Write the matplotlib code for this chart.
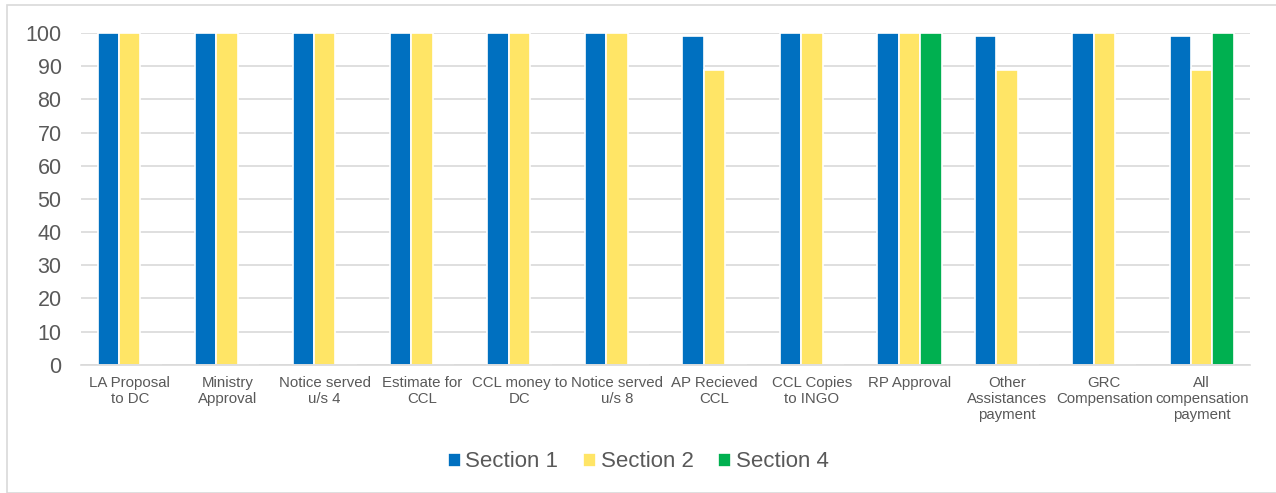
import numpy as np
import matplotlib.pyplot as plt
from matplotlib.patches import Rectangle

plt.rcParams['font.family'] = ['Liberation Sans', 'DejaVu Sans']

categories = ['LA Proposal\nto DC', 'Ministry\nApproval', 'Notice served\nu/s 4', 'Estimate for\nCCL',
              'CCL money to\nDC', 'Notice served\nu/s 8', 'AP Recieved\nCCL', 'CCL Copies\nto INGO',
              'RP Approval', 'Other\nAssistances\npayment', 'GRC\nCompensation', 'All\ncompensation\npayment']
section1 = [100, 100, 100, 100, 100, 100, 99, 100, 100, 99, 100, 99]
section2 = [100, 100, 100, 100, 100, 100, 89, 100, 100, 89, 100, 89]
section4 = [0, 0, 0, 0, 0, 0, 0, 0, 100, 0, 0, 100]

series = [('Section 1', section1, '#0070C0'),
          ('Section 2', section2, '#FFE566'),
          ('Section 4', section4, '#00B050')]

text_color = '#595959'

fig = plt.figure(figsize=(12.76, 4.93), dpi=100)
ax = fig.add_axes([0.0635, 0.26, 0.9165, 0.673])

x = np.arange(len(categories))
w = 0.22
for i, (name, vals, col) in enumerate(series):
    ax.bar(x + (i - 1) * w, vals, width=w, color=col, edgecolor='white', linewidth=1.2,
           label=name, zorder=3)

ax.set_xlim(-0.5, len(categories) - 0.5)
ax.set_ylim(0, 100)
ax.set_yticks(range(0, 101, 10))
ax.set_xticks(x)
ax.set_xticklabels(categories, fontsize=10.8, color=text_color, linespacing=1.2)
ax.tick_params(axis='y', labelsize=15.5, colors=text_color, length=0, pad=14)
ax.tick_params(axis='x', length=0, pad=8)
ax.grid(axis='y', color='#D9D9D9', linewidth=1.2, zorder=0)
for s in ['top', 'right', 'left']:
    ax.spines[s].set_visible(False)
ax.spines['bottom'].set_color('#D9D9D9')
ax.spines['bottom'].set_linewidth(1.2)
ax.spines['bottom'].set_zorder(5)
ax.set_axisbelow(True)

leg = fig.legend(loc='center', bbox_to_anchor=(0.5, 0.063), ncol=3, frameon=False,
                 fontsize=16, handlelength=0.6, handleheight=0.6, handletextpad=0.2,
                 columnspacing=1.1)
for t in leg.get_texts():
    t.set_color(text_color)

fig.patches.append(Rectangle((7 / 1276, 0.0), 1.1, 1 - 5 / 493, transform=fig.transFigure,
                             fill=False, edgecolor='#D9D9D9', linewidth=1.2))

fig.savefig('out.png', dpi=100)
